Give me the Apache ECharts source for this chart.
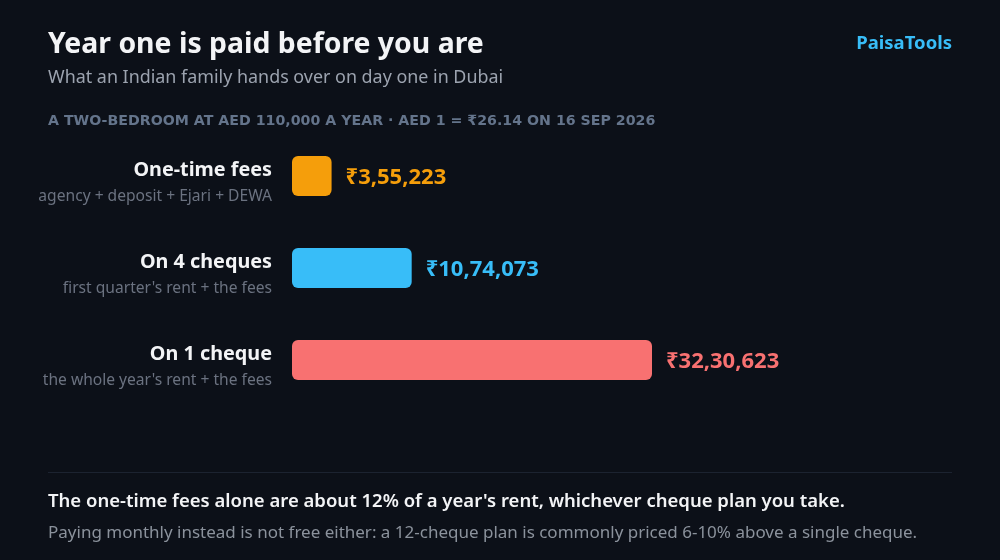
<!DOCTYPE html>
<html><head><meta charset="utf-8">
<script src="https://cdn.jsdelivr.net/npm/echarts@6/dist/echarts.min.js"></script>
<style>html,body{margin:0;padding:0;background:#0c1018;}#c{width:1000px;height:560px;}</style>
</head><body><div id="c"></div>
<script>
const categories = ['One-time fees', 'On 4 cheques', 'On 1 cheque'];
const subLabels = ['agency + deposit + Ejari + DEWA', "first quarter's rent + the fees", "the whole year's rent + the fees"];
const values = [355223, 1074073, 3230623];
const valueLabels = ['₹3,55,223', '₹10,74,073', '₹32,30,623'];
const colors = ['#f59e0b', '#38bdf8', '#f87171'];

const FONT = '"Noto Sans", "Open Sans", sans-serif';
const chart = echarts.init(document.getElementById('c'), null, {renderer: 'canvas'});
chart.setOption({
  backgroundColor: '#0c1018',
  animation: false,
  textStyle: {fontFamily: FONT},
  grid: {left: 292, top: 130, width: 360, height: 276, containLabel: false},
  xAxis: {type: 'value', min: 0, max: function (v) { return v.max; }, show: false},
  yAxis: {
    type: 'category', data: categories, inverse: true,
    axisLine: {show: false}, axisTick: {show: false}, splitLine: {show: false},
    axisLabel: {
      margin: 20, align: 'right', padding: [14, 0, 0, 0],
      formatter: function (v, i) { return '{n|' + v + '}\n{s|' + subLabels[i] + '}'; },
      rich: {
        n: {fontFamily: FONT, fontSize: 19.8, fontWeight: 'bold', color: '#f3f4f6', lineHeight: 28, align: 'right'},
        s: {fontFamily: FONT, fontSize: 15.6, color: '#6b7280', lineHeight: 26, align: 'right'}
      }
    }
  },
  series: [{
    type: 'bar', barWidth: 40,
    data: values.map(function (v, i) {
      return {value: v, itemStyle: {color: colors[i], borderRadius: 6},
        label: {color: colors[i]}};
    }),
    label: {
      show: true, position: 'right', distance: 14, offset: [0, 1.5],
      fontFamily: FONT, fontSize: 22, fontWeight: 'bold',
      formatter: function (p) { return valueLabels[p.dataIndex]; }
    }
  }],
  graphic: [
    {type: 'text', left: 48, top: 31, style: {text: 'Year one is paid before you are', fontFamily: FONT, fontSize: 28.4, fontWeight: 'bold', fill: '#f3f4f6'}},
    {type: 'text', left: 48, top: 69, style: {text: 'What an Indian family hands over on day one in Dubai', fontFamily: FONT, fontSize: 17.9, fill: '#9ca3af'}},
    {type: 'text', left: 48, top: 114, style: {text: 'A TWO-BEDROOM AT AED 110,000 A YEAR · AED 1 = ₹26.14 ON 16 SEP 2026', fontFamily: '"DejaVu Sans", sans-serif', fontSize: 14.2, fontWeight: 'bold', fill: '#64748b'}},
    {type: 'text', right: 48, top: 34, style: {text: 'PaisaTools', fontFamily: FONT, fontSize: 18.5, fontWeight: 'bold', fill: '#38bdf8'}},
    {type: 'rect', shape: {x: 48, y: 472, width: 904, height: 1}, style: {fill: '#1c2330'}},
    {type: 'text', left: 48, top: 492, style: {text: "The one-time fees alone are about 12% of a year's rent, whichever cheque plan you take.", fontFamily: FONT, fontSize: 18.5, fontWeight: 600, fill: '#f3f4f6'}},
    {type: 'text', left: 48, top: 525, style: {text: 'Paying monthly instead is not free either: a 12-cheque plan is commonly priced 6-10% above a single cheque.', fontFamily: FONT, fontSize: 17, fill: '#8b929c'}}
  ]
});
</script></body></html>
